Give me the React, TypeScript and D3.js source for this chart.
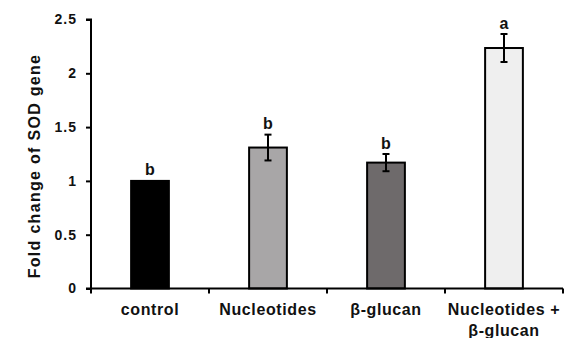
import React, { useEffect, useRef } from 'react';
import * as d3 from 'd3';

const categories = ['control', 'Nucleotides', 'β-glucan', 'Nucleotides +\nβ-glucan'];
const values = [1.0, 1.31, 1.17, 2.235];
const errors = [0, 0.12, 0.08, 0.13];
const letters = ['b', 'b', 'b', 'a'];
const fills = ['#000000', '#a8a6a7', '#6e6a6b', '#efefef'];
const yTicks = [0, 0.5, 1, 1.5, 2, 2.5];

const App: React.FC = () => {
  const svgRef = useRef<SVGSVGElement>(null);

  useEffect(() => {
    if (!svgRef.current) return;
    const svg = d3.select(svgRef.current);
    svg.selectAll('*').remove();

    const left = 91;
    const right = 563;
    const top = 19.5;
    const bottom = 288.5;
    const font = 'Arial, "Liberation Sans", sans-serif';

    const xScale = d3.scaleBand<string>()
      .domain(categories)
      .range([left, right])
      .padding(0);

    const yScale = d3.scaleLinear()
      .domain([0, 2.5])
      .range([bottom, top]);

    const barW = xScale.bandwidth() * 0.32;

    // bars
    svg.append('g')
      .selectAll('rect')
      .data(categories)
      .join('rect')
      .attr('x', d => (xScale(d) as number) + xScale.bandwidth() / 2 - barW / 2)
      .attr('y', (d, i) => yScale(values[i]))
      .attr('width', barW)
      .attr('height', (d, i) => bottom - yScale(values[i]))
      .attr('fill', (d, i) => fills[i])
      .attr('stroke', '#000')
      .attr('stroke-width', 2);

    // error bars
    const eg = svg.append('g').attr('stroke', '#000').attr('stroke-width', 2);
    categories.forEach((c, i) => {
      if (errors[i] <= 0) return;
      const cx = (xScale(c) as number) + xScale.bandwidth() / 2;
      const y1 = yScale(values[i] + errors[i]);
      const y2 = yScale(values[i] - errors[i]);
      eg.append('line').attr('x1', cx).attr('x2', cx).attr('y1', y1).attr('y2', y2);
      eg.append('line').attr('x1', cx - 3.5).attr('x2', cx + 3.5).attr('y1', y1).attr('y2', y1);
      eg.append('line').attr('x1', cx - 3.5).attr('x2', cx + 3.5).attr('y1', y2).attr('y2', y2);
    });

    // significance letters
    svg.append('g')
      .selectAll('text')
      .data(categories)
      .join('text')
      .attr('x', d => (xScale(d) as number) + xScale.bandwidth() / 2)
      .attr('y', (d, i) => yScale(values[i] + errors[i]) - 5.5)
      .attr('text-anchor', 'middle')
      .attr('font-family', font)
      .attr('font-weight', 'bold')
      .style('font-size', '16px')
      .attr('fill', '#111')
      .text((d, i) => letters[i]);

    // y axis
    const yAxis = svg.append('g')
      .attr('transform', `translate(${left},0)`)
      .call(d3.axisLeft(yScale).tickValues(yTicks).tickFormat(d => String(d)).tickSize(5).tickPadding(9))
      .call((g: any) => g.select('.domain').attr('stroke', '#000').attr('stroke-width', 2).attr('d', `M-5,${top}H0V${bottom}`));
    yAxis.selectAll('line').attr('stroke', '#000').attr('stroke-width', 2);
    yAxis.selectAll('text')
      .attr('fill', '#111')
      .attr('font-family', font)
      .attr('font-weight', 'bold')
      .style('font-size', '14px')
      .style('letter-spacing', '1px');

    // x axis
    svg.append('line')
      .attr('x1', left - 5)
      .attr('x2', right)
      .attr('y1', bottom)
      .attr('y2', bottom)
      .attr('stroke', '#000')
      .attr('stroke-width', 2);

    const bounds = categories.map(c => xScale(c) as number).concat([right]);
    svg.append('g')
      .selectAll('line')
      .data(bounds)
      .join('line')
      .attr('x1', d => d)
      .attr('x2', d => d)
      .attr('y1', bottom)
      .attr('y2', bottom + 5)
      .attr('stroke', '#000')
      .attr('stroke-width', 2);

    const xl = svg.append('g');
    categories.forEach(c => {
      const cx = (xScale(c) as number) + xScale.bandwidth() / 2;
      c.split('\n').forEach((line, j) => {
        xl.append('text')
          .attr('x', cx)
          .attr('y', 315 + j * 21)
          .attr('text-anchor', 'middle')
          .attr('font-family', font)
          .attr('font-weight', 'bold')
          .style('font-size', '16px')
          .style('letter-spacing', '0.6px')
          .attr('fill', '#111')
          .text(line);
      });
    });

    // y title
    svg.append('text')
      .attr('transform', `translate(40,${(top + bottom) / 2 + 12}) rotate(-90)`)
      .attr('text-anchor', 'middle')
      .attr('font-family', font)
      .attr('font-weight', 'bold')
      .style('font-size', '16px')
      .style('letter-spacing', '1.3px')
      .attr('fill', '#111')
      .text('Fold change of SOD gene');
  }, []);

  return (
    <svg
      ref={svgRef}
      width={565}
      height={338}
      style={{ position: 'absolute', left: 0, top: 0, background: '#fff', display: 'block' }}
    />
  );
};

export default App;
